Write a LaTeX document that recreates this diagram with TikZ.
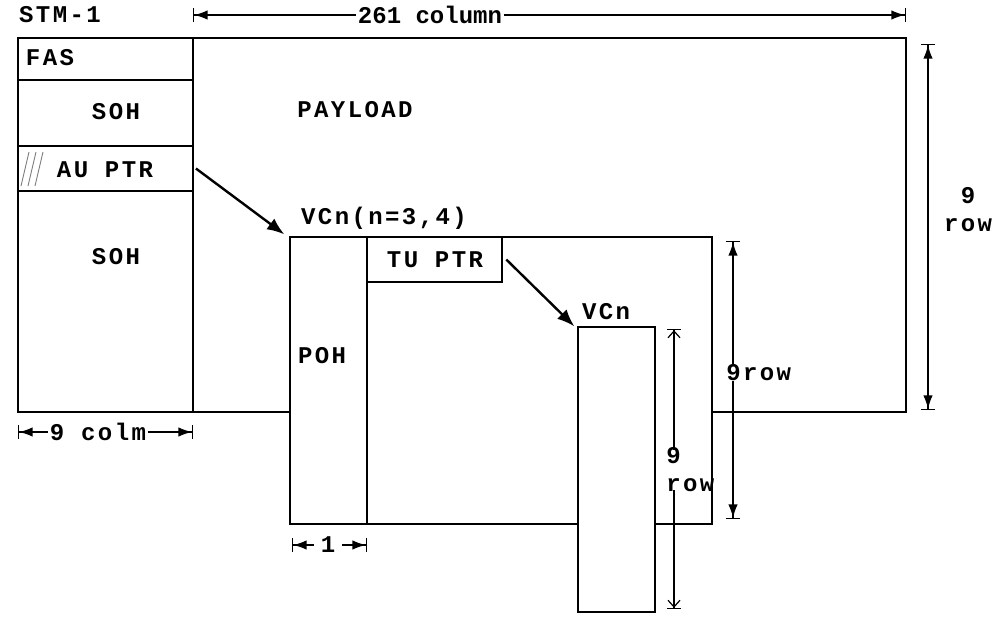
\documentclass[tikz,border=0pt]{standalone}
\usepackage{fontspec}
\newfontfamily\drawfont[LetterSpace=10]{Liberation Mono}
\newfontfamily\tightfont[LetterSpace=0]{Liberation Mono}
\usetikzlibrary{arrows.meta,fit}
\begin{document}
\begin{tikzpicture}[x=0.75pt,y=-0.75pt,
  lbl/.style={font=\drawfont\bfseries\fontsize{18}{20}\selectfont, inner sep=1pt},
  tlbl/.style={font=\tightfont\bfseries\fontsize{18}{20}\selectfont, inner sep=1pt},
  stack/.style={font=\drawfont\bfseries\fontsize{18}{21}\selectfont, inner sep=0pt},
  frame/.style={draw, line width=1pt, inner sep=0pt},
  wbox/.style={draw, line width=1pt, inner sep=0pt, fill=white},
  ln/.style={line width=1pt},
  ptr/.style={line width=1.8pt, -{Latex[length=13pt,width=10pt]}},
  dimL/.style={line width=0.9pt, {Bar[width=10pt,sep=0pt]Latex[length=10pt,width=7pt]}-},
  dimR/.style={line width=0.9pt, -{Latex[length=10pt,width=7pt]Bar[width=10pt,sep=0pt]}},
  dimV/.style={line width=0.9pt, {Bar[width=10pt,sep=3pt]Latex[length=10pt,width=7pt]}-{Latex[length=10pt,width=7pt]Bar[width=10pt,sep=3pt]}},
  dimOT/.style={line width=0.9pt, {Bar[width=10pt,sep=3pt]Straight Barb[length=5pt,width=9pt]}-},
  dimOB/.style={line width=0.9pt, -{Straight Barb[length=5pt,width=9pt]Bar[width=10pt,sep=3pt]}}
]
\useasboundingbox (0,0) rectangle (1002,617);

% STM-1 frame
\node[frame, fit={(18,38)(906,412)}] (stm) {};
\draw[ln] (193,38) -- (193,412);
\draw[ln] (18,80) -- (193,80);
\draw[ln] (18,146) -- (193,146);
\draw[ln] (18,191) -- (193,191);
\node[inner sep=0pt, fit={(18,146)(193,191)}] (aup) {};
\draw[gray, line width=0.7pt] (21,186) -- (29,152) (28,186) -- (36,152) (35,186) -- (43,152);

\node[lbl] (stmlbl) at (60,15) {STM-1};
\node[lbl] (fas) at (50,58) {FAS};
\node[lbl] (soh1) at (116,112) {SOH};
\node[lbl] (auptr) at (105,170) {AU PTR};
\node[lbl] (soh2) at (116,257) {SOH};
\node[lbl] (payload) at (355,110) {PAYLOAD};

% 261 column
\node[tlbl] (c261) at (430,15) {261 column};
\coordinate (c261l) at (193,15);
\coordinate (c261r) at (906,15);
\draw[dimL] (c261l) -- (c261.west);
\draw[dimR] (c261.east) -- (c261r);

% 9 row (STM)
\coordinate (r1t) at (928,40);
\coordinate (r1b) at (928,414);
\draw[dimV] (r1t) -- (r1b);
\node[stack, align=center] (r1lbl) at (968,210) {9\\row};

% 9 colm
\node[lbl] (colm) at (98,432) {9 colm};
\coordinate (colml) at (18,432);
\coordinate (colmr) at (193,432);
\draw[dimL] (colml) -- (colm.west);
\draw[dimR] (colm.east) -- (colmr);

% VC box
\node[wbox, fit={(290,237)(712,524)}] (vc) {};
\draw[ln] (367,237) -- (367,524);
\node[inner sep=0pt, fit={(367,237)(502,282)}] (tu) {};
\draw[ln] (367,282) -| (502,237);
\node[lbl] (tulbl) at (435,260) {TU PTR};
\node[lbl] (poh) at (322,356) {POH};
\node[lbl] (vclbl) at (384,218) {VCn(n=3,4)};

\draw[ptr] ([xshift=2pt]aup.east) -- ([shift={(-5,-2)}]vc.north west);

% 1 column
\node[lbl] (one) at (328,545) {1};
\coordinate (onel) at (292,545);
\coordinate (oner) at (367,545);
\draw[dimL] (onel) -- ([xshift=-4]one.west);
\draw[dimR] ([xshift=4]one.east) -- (oner);

% 9 row (VC)
\coordinate (r2t) at (733,237);
\coordinate (r2b) at (733,523);
\draw[dimV] (r2t) -- (r2b);
\node[lbl, fill=white, anchor=west, inner sep=0pt] (r2lbl) at (726,373) {9row};

% small VCn box
\node[wbox, fit={(578,327)(655,612)}] (vcs) {};
\node[lbl] (vcslbl) at (606,312) {VCn};
\draw[ptr] ([xshift=3pt]tu.east) -- ([shift={(-3,0)}]vcs.north west);

% 9 row (small)
\coordinate (r3t) at (674,325);
\coordinate (r3b) at (674,613);
\node[stack, align=left, anchor=west] (r3lbl) at (666,470) {9\\row};
\draw[dimOT] (r3t) -- ([yshift=-2]r3t |- r3lbl.north);
\draw[dimOB] ([yshift=2]r3b |- r3lbl.south) -- (r3b);
\end{tikzpicture}
\end{document}
